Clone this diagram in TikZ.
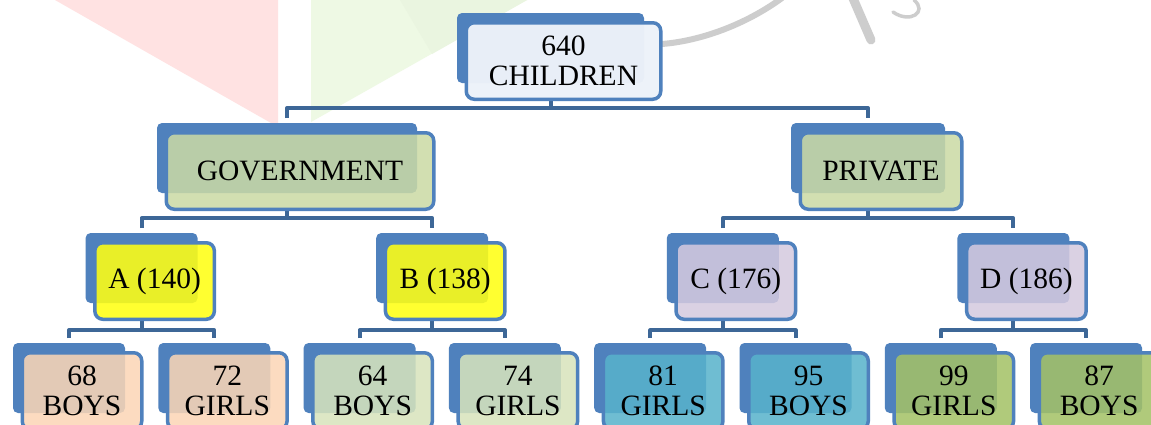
\documentclass[tikz,border=0pt]{standalone}
\usepackage{fontspec}
\setmainfont{Liberation Serif}
\definecolor{bblue}{HTML}{4F81BD}
\definecolor{cline}{HTML}{3D6797}
\definecolor{ftop}{HTML}{EDF2F9}
\definecolor{fgov}{HTML}{CBDAA5}
\definecolor{fyel}{HTML}{FFFF14}
\definecolor{flav}{HTML}{D5CADF}
\definecolor{fpea}{HTML}{FCD6B6}
\definecolor{flgr}{HTML}{D8E4BC}
\definecolor{fteal}{HTML}{58B3CB}
\definecolor{foli}{HTML}{A4C266}
\definecolor{wmred}{HTML}{FFE2E2}
\definecolor{wmgreen}{HTML}{EEF9E4}
\definecolor{wmgreenb}{HTML}{EAF5E0}
\definecolor{wmgray}{HTML}{CDCDCD}
\pgfdeclarelayer{wm}
\pgfdeclarelayer{lines}
\pgfsetlayers{wm,lines,main}
\tikzset{
  backbox/.style={fill=bblue, draw=none, rounded corners=5pt, minimum height=70pt, inner sep=0pt, outer sep=0pt},
  frontbox/.style={draw=bblue, line width=3.5pt, rounded corners=8pt, minimum height=76.5pt,
    inner sep=0pt, outer sep=0pt, align=center, text opacity=1,
    font=\fontsize{29.5}{30}\selectfont},
  conn/.style={draw=cline, line width=4pt, line join=round},
  wmline/.style={draw=wmgray, line cap=round},
}
\newcommand\tbox[7]{%
  \pgfmathsetmacro\fw{#4+7.5}%
  \node[backbox, minimum width=#4pt] (#1b) at (#2,#3) {};
  \node[frontbox, minimum width=\fw pt, fill=#5, fill opacity=#7] (#1) at (#2+13,#3+13) {#6};
}
\begin{document}
\begin{tikzpicture}[x=1pt,y=-1pt]
\clip (0,0) rectangle (1151,424);
% level 1
\tbox{top}{550.5}{48}{187}{ftop}{640\\CHILDREN}{0.97}
% level 2
\tbox{gov}{287}{158}{260}{fgov}{GOVERNMENT}{0.86}
\tbox{priv}{868}{158}{154}{fgov}{PRIVATE}{0.86}
% level 3
\tbox{a}{141.6}{268}{112}{fyel}{A (140)}{0.88}
\tbox{b}{432.2}{268}{112}{fyel}{B (138)}{0.88}
\tbox{c}{722.8}{268}{112}{flav}{C (176)}{0.86}
\tbox{d}{1013.4}{268}{112}{flav}{D (186)}{0.86}
% level 4
\tbox{l1}{69}{378}{112}{fpea}{68\\BOYS}{0.86}
\tbox{l2}{214.3}{378}{112}{fpea}{72\\GIRLS}{0.86}
\tbox{l3}{359.6}{378}{112}{flgr}{64\\BOYS}{0.86}
\tbox{l4}{504.9}{378}{112}{flgr}{74\\GIRLS}{0.86}
\tbox{l5}{650.2}{378}{112}{fteal}{81\\GIRLS}{0.86}
\tbox{l6}{795.5}{378}{112}{fteal}{95\\BOYS}{0.86}
\tbox{l7}{940.8}{378}{112}{foli}{99\\GIRLS}{0.86}
\tbox{l8}{1086.1}{378}{112}{foli}{87\\BOYS}{0.86}

\begin{pgfonlayer}{wm}
\fill[white] (0,0) rectangle (1151,424);
\fill[wmred] (55,0) -- (278,0) -- (278,127) -- cycle;
\fill[wmgreen] (311,0) -- (527,0) -- (311,122) -- cycle;
\fill[wmgreenb] (400,0) -- (527,0) -- (432,54) -- cycle;
\draw[wmline, line width=6pt] (662,44) .. controls (700,41) and (745,25) .. (782,-2);
\draw[wmline, line width=9pt] (852,-4) -- (871,40);
\draw[wmline, line width=3.5pt] (914,0) .. controls (928,12) and (910,24) .. (893,12);
\end{pgfonlayer}

\begin{pgfonlayer}{lines}
% level 1 -> 2
\draw[conn] (topb.center |- top.south) -- ++(0,9) coordinate (j1);
\draw[conn] ([yshift=5pt]govb.north) |- (j1) -| ([yshift=5pt]privb.north);
% level 2 -> 3
\draw[conn] (govb.center |- gov.south) -- ++(0,9) coordinate (j2);
\draw[conn] ([yshift=5pt]ab.north) |- (j2) -| ([yshift=5pt]bb.north);
\draw[conn] (privb.center |- priv.south) -- ++(0,9) coordinate (j3);
\draw[conn] ([yshift=5pt]cb.north) |- (j3) -| ([yshift=5pt]db.north);
% level 3 -> 4
\draw[conn] (ab.center |- a.south) -- ++(0,11) coordinate (j4);
\draw[conn] ([yshift=5pt]l1b.north) |- (j4) -| ([yshift=5pt]l2b.north);
\draw[conn] (bb.center |- b.south) -- ++(0,11) coordinate (j5);
\draw[conn] ([yshift=5pt]l3b.north) |- (j5) -| ([yshift=5pt]l4b.north);
\draw[conn] (cb.center |- c.south) -- ++(0,11) coordinate (j6);
\draw[conn] ([yshift=5pt]l5b.north) |- (j6) -| ([yshift=5pt]l6b.north);
\draw[conn] (db.center |- d.south) -- ++(0,11) coordinate (j7);
\draw[conn] ([yshift=5pt]l7b.north) |- (j7) -| ([yshift=5pt]l8b.north);
\end{pgfonlayer}
\end{tikzpicture}
\end{document}
